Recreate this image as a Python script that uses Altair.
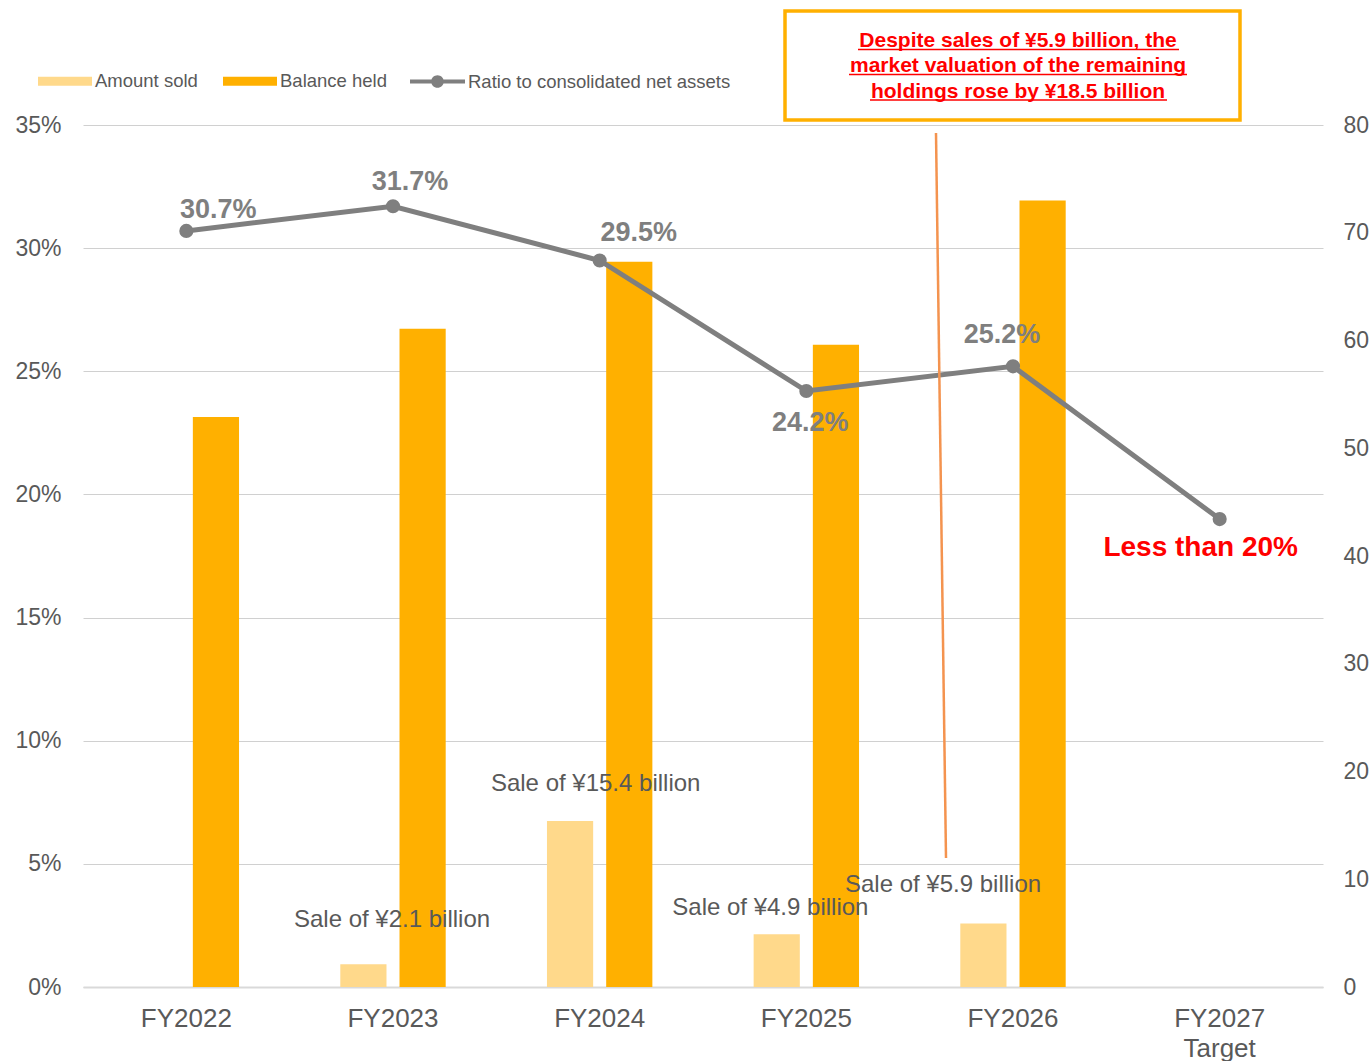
import altair as alt
import pandas as pd

# ---------------- data ----------------
years = ["FY2022", "FY2023", "FY2024", "FY2025", "FY2026", "FY2027"]
bar_years = ["FY2022", "FY2023", "FY2024", "FY2025", "FY2026"]
amount_sold = [0.0, 2.1, 15.4, 4.9, 5.9]          # ¥ billion
balance_held = [52.9, 61.1, 67.3, 59.6, 73.0]      # ¥ billion
ratio = [0.307, 0.317, 0.295, 0.242, 0.252, 0.190]
ratio_labels = ["30.7%", "31.7%", "29.5%", "24.2%", "25.2%", "Less than 20%"]
sale_years = ["FY2023", "FY2024", "FY2025", "FY2026"]
sale_values = [2.1, 15.4, 4.9, 5.9]
sale_labels = ["Sale of ¥2.1 billion", "Sale of ¥15.4 billion",
               "Sale of ¥4.9 billion", "Sale of ¥5.9 billion"]
pct_ticks = [0, 0.05, 0.10, 0.15, 0.20, 0.25, 0.30, 0.35]
amt_ticks = [0, 10, 20, 30, 40, 50, 60, 70, 80]
bar_series = ["Amount sold", "Balance held"]
line_series = ["Ratio to consolidated net assets"]
note_lines = ["Despite sales of ¥5.9 billion, the",
              "market valuation of the remaining",
              "holdings rose by ¥18.5 billion"]

FONT = "Liberation Sans"
GREY_TXT = "#595959"
LINE_C = "#7F7F7F"

bar_df = pd.DataFrame(
    [{"year": y, "series": "Amount sold", "value": v} for y, v in zip(bar_years, amount_sold)]
    + [{"year": y, "series": "Balance held", "value": v} for y, v in zip(bar_years, balance_held)]
)
line_df = pd.DataFrame({"year": years, "ratio": ratio, "label": ratio_labels,
                        "series": line_series[0]})
sale_df = pd.DataFrame({"year": sale_years, "value": sale_values, "label": sale_labels})

x_scale = alt.Scale(type="band", domain=years, paddingInner=0.49, paddingOuter=0.245)
pct_scale = alt.Scale(domain=[0, 0.35], nice=False, zero=True)
amt_scale = alt.Scale(domain=[0, 80], nice=False, zero=True)

line_shape = ("M-1,-0.07H-0.15V0.07H-1Z M0.15,-0.07H1V0.07H0.15Z "
              "M-0.23,0A0.23,0.23 0 1,1 0.23,0A0.23,0.23 0 1,1 -0.23,0Z")
rect_shape = "M-1,-0.17H1V0.17H-1Z"

bar_legend = alt.Legend(
    title=None, orient="none", legendX=-45, legendY=-71, direction="horizontal",
    symbolType=rect_shape, symbolSize=2916, symbolStrokeWidth=0, symbolOpacity=1,
    labelFont=FONT, labelFontSize=18.5, labelColor=GREY_TXT, labelOffset=3,
    columnPadding=25, padding=0, labelLimit=0,
)
line_legend = alt.Legend(
    title=None, orient="none", legendX=327, legendY=-71, direction="horizontal",
    symbolType=line_shape, symbolSize=3025, symbolStrokeWidth=0, symbolOpacity=1,
    symbolFillColor=LINE_C,
    labelFont=FONT, labelFontSize=18.5, labelColor=GREY_TXT, labelOffset=3,
    padding=0, labelLimit=0,
)

x_axis = alt.Axis(title=None, labelFont=FONT, labelFontSize=26, labelColor=GREY_TXT,
                  labelPadding=31, ticks=False, tickSize=0, domain=True,
                  domainColor="#D9D9D9", domainWidth=2, labelAngle=0,
                  labelAlign="center", bandPosition=0.5, labelLineHeight=30,
                  labelExpr="datum.value == 'FY2027' ? ['FY2027', 'Target'] : datum.value")

# ---------------- left (percent) group ----------------
line = alt.Chart(line_df).mark_line(strokeWidth=5).encode(
    x=alt.X("year:N", scale=x_scale, sort=years, axis=x_axis),
    y=alt.Y("ratio:Q", scale=pct_scale,
            axis=alt.Axis(title=None, orient="left", values=pct_ticks, format=".0%",
                          labelFont=FONT, labelFontSize=23, labelColor=GREY_TXT,
                          labelPadding=22, ticks=False, domain=False, grid=True,
                          gridColor="#D0D0D0", gridWidth=1)),
    stroke=alt.Stroke("series:N", scale=alt.Scale(domain=line_series, range=[LINE_C]),
                      legend=line_legend),
)
dots = alt.Chart(line_df).mark_point(filled=True, size=200, color=LINE_C, opacity=1).encode(
    x=alt.X("year:N", scale=x_scale, sort=years),
    y=alt.Y("ratio:Q", scale=pct_scale),
)

ratio_offsets = [(32, -21), (17, -24), (39, -27), (4, 32), (-11, -31), (-19, 29)]
ratio_layers = []
for i, (dx, dy) in enumerate(ratio_offsets):
    is_target = i == len(ratio_offsets) - 1
    ratio_layers.append(
        alt.Chart(line_df.iloc[[i]]).mark_text(
            dx=dx, dy=dy, font=FONT, fontWeight="bold",
            fontSize=28 if is_target else 27,
            color="#FF0000" if is_target else LINE_C,
            align="center", baseline="middle",
        ).encode(
            x=alt.X("year:N", scale=x_scale, sort=years),
            y=alt.Y("ratio:Q", scale=pct_scale),
            text="label:N",
        )
    )
left_group = alt.layer(line, dots, *ratio_layers)

# ---------------- right (amount) group ----------------
bars = alt.Chart(bar_df).mark_bar().encode(
    x=alt.X("year:N", scale=x_scale, sort=years),
    xOffset=alt.XOffset("series:N", sort=bar_series,
                        scale=alt.Scale(domain=bar_series, paddingInner=0.22, paddingOuter=0)),
    y=alt.Y("value:Q", scale=amt_scale,
            axis=alt.Axis(title=None, orient="right", values=amt_ticks,
                          labelFont=FONT, labelFontSize=23, labelColor=GREY_TXT,
                          labelPadding=20, ticks=False, domain=False, grid=False)),
    color=alt.Color("series:N", scale=alt.Scale(domain=bar_series, range=["#FFD98B", "#FFB000"]),
                    legend=bar_legend),
)

sale_offsets = [(-1, -44), (-4, -37), (-36, -26), (-70, -38)]
sale_layers = []
for i, (dx, dy) in enumerate(sale_offsets):
    sale_layers.append(
        alt.Chart(sale_df.iloc[[i]]).mark_text(
            dx=dx, dy=dy, font=FONT, fontSize=24, color=GREY_TXT,
            align="center", baseline="middle",
        ).encode(
            x=alt.X("year:N", scale=x_scale, sort=years),
            y=alt.Y("value:Q", scale=amt_scale),
            text="label:N",
        )
    )
right_group = alt.layer(bars, *sale_layers)

# ---------------- annotation ----------------
one = pd.DataFrame({"k": [0]})
connector = alt.Chart(one).mark_rule(color="#F4934F", strokeWidth=2.5).encode(
    x=alt.value(853), x2=alt.value(863), y=alt.value(8), y2=alt.value(733))
box = alt.Chart(one).mark_rect(fill="white", stroke="#FFB000", strokeWidth=3.5).encode(
    x=alt.value(702), x2=alt.value(1157), y=alt.value(-114), y2=alt.value(-5))
note_base = [-78, -53, -27.5]
note_ul = [(775, 1096), (766, 1104), (787, 1084)]
note_layers = []
for txt, yb, (u0, u1) in zip(note_lines, note_base, note_ul):
    note_layers.append(alt.Chart(one).mark_text(
        text=txt, font=FONT, fontSize=21, fontWeight="bold", color="#FF0000",
        align="center", baseline="alphabetic").encode(x=alt.value(935), y=alt.value(yb)))
    note_layers.append(alt.Chart(one).mark_rule(color="#FF0000", strokeWidth=1.5).encode(
        x=alt.value(u0), x2=alt.value(u1), y=alt.value(yb + 2.5)))

chart = alt.layer(
    right_group, left_group, connector, box, *note_layers
).resolve_scale(y="independent").properties(
    width=1240, height=862, autosize="none", background="white",
    padding={"left": 83, "top": 125, "right": 48, "bottom": 74},
).configure_view(strokeWidth=0, stroke="transparent")

chart.save("out.html", embed_options={"renderer": "svg", "actions": False})
